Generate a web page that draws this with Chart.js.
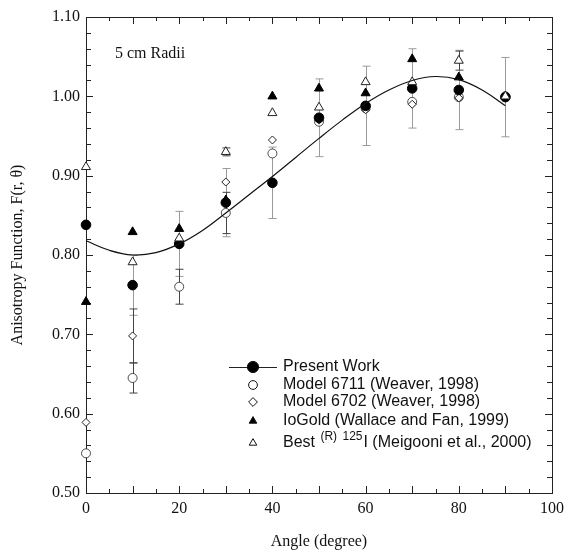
<!DOCTYPE html>
<html>
<head>
<meta charset="utf-8">
<script src="https://cdn.jsdelivr.net/npm/chart.js@4.4.0/dist/chart.umd.min.js"></script>
<style>
  html, body { margin: 0; padding: 0; background: #fff; }
  #wrap { width: 570px; height: 551px; }
</style>
</head>
<body>
<div id="wrap"><canvas id="fChart" width="570" height="551"></canvas></div>
<script>
// angles (degree)
var angles = [0, 10, 20, 30, 40, 50, 60, 70, 80, 90];

// F(r, theta) values
var presentWork = [0.838, 0.762, 0.814, 0.866, 0.891, 0.973, 0.988, 1.010, 1.008, 0.999];
var model6711   = [0.550, 0.645, 0.760, 0.853, 0.928, 0.968, 0.985, 0.993, 0.999, 1.000];
var model6702   = [0.589, 0.698, 0.815, 0.892, 0.945, 0.970, 0.983, 0.990, 0.998, 1.000];
var ioGold      = [0.741, 0.829, 0.833, 0.869, 1.000, 1.010, 1.004, 1.047, 1.024, 1.000];
var best125I    = [0.911, 0.791, 0.821, 0.930, 0.979, 0.986, 1.018, 1.018, 1.045, 1.000];

// error bars (half widths)
var presentErr  = [0.000, 0.038, 0.041, 0.043, 0.045, 0.049, 0.050, 0.050, 0.050, 0.050];
var model6711Err = [0.000, 0.019, 0.022, 0.026, 0.000, 0.000, 0.000, 0.000, 0.000, 0.000];
var model6702Err = [0.000, 0.034, 0.000, 0.000, 0.000, 0.000, 0.000, 0.000, 0.000, 0.000];
var bestErr     = [0.000, 0.000, 0.000, 0.005, 0.000, 0.000, 0.000, 0.000, 0.012, 0.000];

// fitted curve for present work
var fitAngles = [0, 5, 10, 15, 20, 25, 30, 35, 40, 45, 50, 55, 60, 65, 70, 75, 80, 85, 90];
var fitValues = [0.818, 0.806, 0.800, 0.803, 0.814, 0.831, 0.853, 0.876, 0.899, 0.923, 0.947, 0.970, 0.991, 1.008, 1.020, 1.025, 1.021, 1.008, 0.988];

var xTicks = [0, 20, 40, 60, 80, 100];
var yTicks = [0.50, 0.60, 0.70, 0.80, 0.90, 1.00, 1.10];

function pts(xs, ys) {
    return xs.map(function (x, i) { return { x: x, y: ys[i] }; });
}

var serif = 'Liberation Serif, Times New Roman, serif';
var sans = 'Liberation Sans, Arial, sans-serif';

// vertical error bars drawn under the markers
var errorBars = {
    id: 'errorBars',
    beforeDatasetsDraw: function (chart) {
        var ctx = chart.ctx, xs = chart.scales.x, ys = chart.scales.y;
        chart.data.datasets.forEach(function (ds) {
            if (!ds.err) return;
            ctx.save();
            ctx.strokeStyle = ds.errColor;
            ctx.lineWidth = 1;
            ds.data.forEach(function (p, i) {
                var e = ds.err[i];
                if (!e) return;
                var px = Math.round(xs.getPixelForValue(p.x)) + 0.5;
                var top = ys.getPixelForValue(p.y + e), bot = ys.getPixelForValue(p.y - e);
                ctx.beginPath();
                ctx.moveTo(px, top); ctx.lineTo(px, bot);
                ctx.moveTo(px - 4, top); ctx.lineTo(px + 4, top);
                ctx.moveTo(px - 4, bot); ctx.lineTo(px + 4, bot);
                ctx.stroke();
            });
            ctx.restore();
        });
    }
};

// frame with inward ticks on all four sides, plus the "5 cm Radii" note
var frame = {
    id: 'frame',
    beforeDatasetsDraw: function (chart) {
        var ctx = chart.ctx, a = chart.chartArea, xs = chart.scales.x, ys = chart.scales.y;
        ctx.save();
        ctx.strokeStyle = '#222';
        ctx.lineWidth = 1;
        ctx.strokeRect(a.left + 0.5, a.top + 0.5, a.right - a.left, a.bottom - a.top);
        ctx.beginPath();
        for (var v = 0; v <= 100; v += 5) {
            var px = Math.round(xs.getPixelForValue(v)) + 0.5;
            var len = v % 10 === 0 ? 7 : 4;
            ctx.moveTo(px, a.bottom); ctx.lineTo(px, a.bottom - len);
            ctx.moveTo(px, a.top); ctx.lineTo(px, a.top + len);
        }
        for (var k = 0; k <= 30; k++) {
            var py = Math.round(ys.getPixelForValue(0.5 + k * 0.02)) + 0.5;
            var l2 = k % 5 === 0 ? 7 : 5;
            ctx.moveTo(a.left, py); ctx.lineTo(a.left + l2, py);
            ctx.moveTo(a.right, py); ctx.lineTo(a.right - l2, py);
        }
        ctx.stroke();
        ctx.fillStyle = '#111';
        ctx.font = '16px ' + serif;
        ctx.textBaseline = 'middle';
        ctx.fillText('5 cm Radii', a.left + 29, a.top + 37);
        ctx.restore();
    }
};

// legend inside the plot
var insideLegend = {
    id: 'insideLegend',
    afterDraw: function (chart) {
        var ctx = chart.ctx;
        var rows = [
            { ds: 1, y: 367, line: true, label: 'Present Work' },
            { ds: 2, y: 385, label: 'Model 6711 (Weaver, 1998)' },
            { ds: 3, y: 402, label: 'Model 6702 (Weaver, 1998)' },
            { ds: 4, y: 421, label: 'IoGold (Wallace and Fan, 1999)' },
            { ds: 5, y: 443, label: 'Best', sup: true }
        ];
        ctx.save();
        rows.forEach(function (r) {
            var ds = chart.data.datasets[r.ds];
            if (r.line) {
                ctx.strokeStyle = '#222';
                ctx.lineWidth = 1;
                ctx.beginPath();
                ctx.moveTo(229, r.y + 0.5); ctx.lineTo(277, r.y + 0.5);
                ctx.stroke();
            }
            ctx.fillStyle = ds.pointBackgroundColor;
            ctx.strokeStyle = '#111';
            Chart.helpers.drawPoint(ctx, {
                pointStyle: ds.pointStyle, radius: r.line ? 5.6 : 4.4,
                rotation: 0, borderWidth: 1
            }, 253, r.y);
            ctx.fillStyle = '#111';
            ctx.textBaseline = 'middle';
            ctx.font = '16px ' + sans;
            var x = 283;
            ctx.fillText(r.label, x, r.y);
            if (r.sup) {
                x += ctx.measureText(r.label + ' ').width + 1;
                ctx.font = '12px ' + sans;
                ctx.fillText('(R)', x, r.y - 6);
                x += ctx.measureText('(R) ').width + 2;
                ctx.fillText('125', x, r.y - 6);
                x += ctx.measureText('125').width + 1;
                ctx.font = '16px ' + sans;
                ctx.fillText('I (Meigooni et al., 2000)', x, r.y);
            }
        });
        ctx.restore();
    }
};

document.addEventListener('DOMContentLoaded', function () {
    var ctx = document.getElementById('fChart').getContext('2d');
    var fChart = new Chart(ctx, {
        type: 'scatter',
        data: {
            datasets: [{
                label: 'fit',
                data: pts(fitAngles, fitValues),
                showLine: true,
                borderColor: '#111',
                borderWidth: 1.2,
                pointRadius: 0,
                tension: 0.4,
                order: 0
            }, {
                label: 'Present Work',
                data: pts(angles, presentWork),
                pointStyle: 'circle',
                pointRadius: 4.8,
                pointBackgroundColor: '#000',
                pointBorderColor: '#000',
                err: presentErr,
                errColor: '#9a9a9a',
                order: 3
            }, {
                label: 'Model 6711 (Weaver, 1998)',
                data: pts(angles, model6711),
                pointStyle: 'circle',
                pointRadius: 4.5,
                pointBackgroundColor: '#fff',
                pointBorderColor: '#222',
                pointBorderWidth: 0.8,
                err: model6711Err,
                errColor: '#444',
                order: 5
            }, {
                label: 'Model 6702 (Weaver, 1998)',
                data: pts(angles, model6702),
                pointStyle: 'rectRot',
                pointRadius: 4,
                pointBackgroundColor: '#fff',
                pointBorderColor: '#222',
                pointBorderWidth: 1,
                err: model6702Err,
                errColor: '#444',
                order: 4
            }, {
                label: 'IoGold (Wallace and Fan, 1999)',
                data: pts(angles, ioGold),
                pointStyle: 'triangle',
                pointRadius: 5.2,
                pointBackgroundColor: '#000',
                pointBorderColor: '#000',
                order: 2
            }, {
                label: 'Best (R) 125I (Meigooni et al., 2000)',
                data: pts(angles, best125I),
                pointStyle: 'triangle',
                pointRadius: 5.2,
                pointBackgroundColor: '#fff',
                pointBorderColor: '#222',
                pointBorderWidth: 1,
                err: bestErr,
                errColor: '#444',
                order: 1
            }]
        },
        options: {
            responsive: false,
            animation: false,
            clip: false,
            layout: { padding: { left: 0, top: 17, right: 14, bottom: 0 } },
            scales: {
                x: {
                    type: 'linear',
                    min: 0,
                    max: 100,
                    grid: { display: false, drawTicks: false },
                    border: { display: false },
                    afterBuildTicks: function (axis) {
                        axis.ticks = xTicks.map(function (v) { return { value: v }; });
                    },
                    ticks: { color: '#111', padding: 6, font: { family: serif, size: 16 } },
                    title: {
                        display: true,
                        text: 'Angle (degree)',
                        color: '#111',
                        font: { family: serif, size: 16 },
                        padding: { top: 14, bottom: 0 }
                    },
                    afterFit: function (axis) { axis.height = 58; }
                },
                y: {
                    type: 'linear',
                    min: 0.5,
                    max: 1.1,
                    grid: { display: false, drawTicks: false },
                    border: { display: false },
                    afterBuildTicks: function (axis) {
                        axis.ticks = yTicks.map(function (v) { return { value: v }; });
                    },
                    ticks: {
                        color: '#111',
                        padding: 6,
                        font: { family: serif, size: 16 },
                        callback: function (v) { return Number(v).toFixed(2); }
                    },
                    title: {
                        display: true,
                        text: 'Anisotropy Function, F(r, \u03b8)',
                        color: '#111',
                        font: { family: serif, size: 16 },
                        padding: { top: 8, bottom: 0 }
                    },
                    afterFit: function (axis) { axis.width = 86; }
                }
            },
            plugins: {
                legend: { display: false },
                tooltip: { enabled: false }
            }
        },
        plugins: [frame, errorBars, insideLegend]
    });
});
</script>
</body>
</html>
